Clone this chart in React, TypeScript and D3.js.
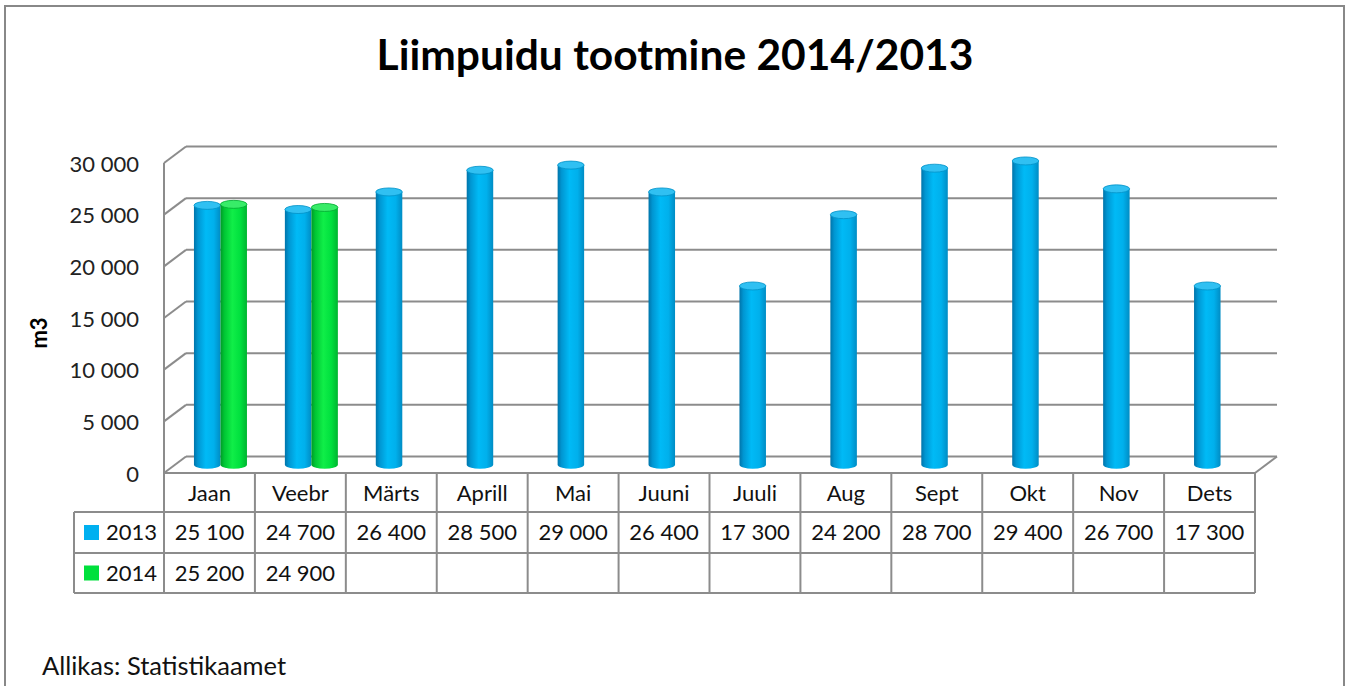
import React from "react";
import * as d3 from "d3";

const months = ["Jaan", "Veebr", "Märts", "Aprill", "Mai", "Juuni", "Juuli", "Aug", "Sept", "Okt", "Nov", "Dets"];
const values2013 = [25100, 24700, 26400, 28500, 29000, 26400, 17300, 24200, 28700, 29400, 26700, 17300];
const values2014 = [25200, 24900];
const yTicks = [0, 5000, 10000, 15000, 20000, 25000, 30000];
const seriesNames = ["2013", "2014"];
const title = "Liimpuidu tootmine 2014/2013";
const yTitle = "m3";
const source = "Allikas: Statistikaamet";

const W = 1350;
const H = 686;
const FONT = "Lato, 'Open Sans', sans-serif";
const GRID = "#8c8c8c";

const loc = d3.formatLocale({ decimal: ",", thousands: " ", grouping: [3], currency: ["", ""] });
const fmt = loc.format(",d");

export default function App() {
  const x = d3.scaleBand<string>().domain(months).range([164, 1255]).paddingInner(0).paddingOuter(0);
  const y = d3.scaleLinear().domain([0, 30000]).range([473, 163]);
  const dx = 22;
  const dy = -16.5;
  const barW = 26.5;
  const ry = 4;
  const tableTop = 473;
  const row1 = 512;
  const row2 = 553;
  const row3 = 593;
  const legendLeft = 74;
  const fs = 22;

  const series = [
    { name: seriesNames[0], values: values2013, grad: "gBlue", top: "#30c0f2", topStroke: "#0090c6", legend: "#00b0f0", offset: -barW / 2 },
    { name: seriesNames[1], values: values2014, grad: "gGreen", top: "#38ec68", topStroke: "#00aa30", legend: "#00e03c", offset: barW / 2 },
  ];

  const cylinders: React.ReactNode[] = [];
  months.forEach((m, i) => {
    series.forEach((s, si) => {
      const v = s.values[i];
      if (v === undefined) return;
      const cx = (x(m) as number) + x.bandwidth() / 2 + dx / 2 + s.offset;
      const yb = y(0) + dy / 2;
      const yt = y(v) + dy / 2;
      const l = cx - barW / 2;
      const r = cx + barW / 2;
      const body = `M${l},${yt} L${l},${yb} A${barW / 2},${ry} 0 0 0 ${r},${yb} L${r},${yt} Z`;
      cylinders.push(
        <g key={`${m}-${si}`}>
          <path d={body} fill={`url(#${s.grad})`} />
          <ellipse cx={cx} cy={yt} rx={barW / 2} ry={ry} fill={s.top} stroke={s.topStroke} strokeWidth={0.8} />
        </g>
      );
    });
  });

  return (
    <svg width={W} height={H} style={{ position: "absolute", left: 0, top: 0, background: "#fff" }} fontFamily={FONT}>
      <defs>
        <linearGradient id="gBlue" x1="0" x2="1" y1="0" y2="0">
          <stop offset="0" stopColor="#0074aa" />
          <stop offset="0.15" stopColor="#0096d2" />
          <stop offset="0.45" stopColor="#00baf6" />
          <stop offset="0.75" stopColor="#00b0ec" />
          <stop offset="1" stopColor="#008cc4" />
        </linearGradient>
        <linearGradient id="gGreen" x1="0" x2="1" y1="0" y2="0">
          <stop offset="0" stopColor="#009a26" />
          <stop offset="0.15" stopColor="#00c634" />
          <stop offset="0.45" stopColor="#10ee48" />
          <stop offset="0.75" stopColor="#00e03e" />
          <stop offset="1" stopColor="#00b430" />
        </linearGradient>
      </defs>
      <rect x={5} y={6} width={1339} height={700} fill="#fff" stroke="#888" strokeWidth={2} />

      <text x={675} y={70} textAnchor="middle" fontSize={42.5} fontWeight="bold" fill="#000">{title}</text>

      {yTicks.map((t) => (
        <g key={t}>
          <line x1={164 + dx} x2={1255 + dx} y1={y(t) + dy} y2={y(t) + dy} stroke={GRID} strokeWidth={2} />
          <line x1={164} x2={164 + dx} y1={y(t)} y2={y(t) + dy} stroke={GRID} strokeWidth={2} />
          <text x={139} y={y(t) + 1} dy="0.35em" textAnchor="end" fontSize={fs} fill="#222">{fmt(t)}</text>
        </g>
      ))}
      <line x1={164} x2={164} y1={y(30000)} y2={y(0)} stroke={GRID} strokeWidth={2} />
      <line x1={1255} x2={1255 + dx} y1={y(0)} y2={y(0) + dy} stroke={GRID} strokeWidth={2} />

      {cylinders}

      <text transform={`translate(47,${333}) rotate(-90)`} textAnchor="middle" fontSize={22} fontWeight="bold" fill="#000">{yTitle}</text>

      <g stroke={GRID} strokeWidth={2}>
        <line x1={164} x2={1255} y1={tableTop} y2={tableTop} />
        {[row1, row2, row3].map((ry2) => (
          <line key={ry2} x1={legendLeft} x2={1255} y1={ry2} y2={ry2} />
        ))}
        <line x1={legendLeft} x2={legendLeft} y1={row1} y2={row3} />
        {months.map((m) => (
          <line key={m} x1={x(m) as number} x2={x(m) as number} y1={tableTop} y2={row3} />
        ))}
        <line x1={1255} x2={1255} y1={tableTop} y2={row3} />
      </g>
      {months.map((m) => (
        <text key={m} x={(x(m) as number) + x.bandwidth() / 2} y={(tableTop + row1) / 2 + 1} dy="0.35em" textAnchor="middle" fontSize={fs} fill="#111">{m}</text>
      ))}
      {series.map((s, si) => {
        const top = si === 0 ? row1 : row2;
        const bot = si === 0 ? row2 : row3;
        const cy = (top + bot) / 2;
        return (
          <g key={s.name}>
            <rect x={84} y={cy - 7.5} width={15} height={15} fill={s.legend} />
            <text x={106} y={cy} dy="0.35em" fontSize={fs} fill="#111">{s.name}</text>
            {s.values.map((v, i) => (
              <text key={i} x={(x(months[i]) as number) + x.bandwidth() / 2} y={cy} dy="0.35em" textAnchor="middle" fontSize={fs} fill="#111">{fmt(v)}</text>
            ))}
          </g>
        );
      })}

      <text x={42} y={675} fontSize={25.5} fill="#111">{source}</text>
    </svg>
  );
}
